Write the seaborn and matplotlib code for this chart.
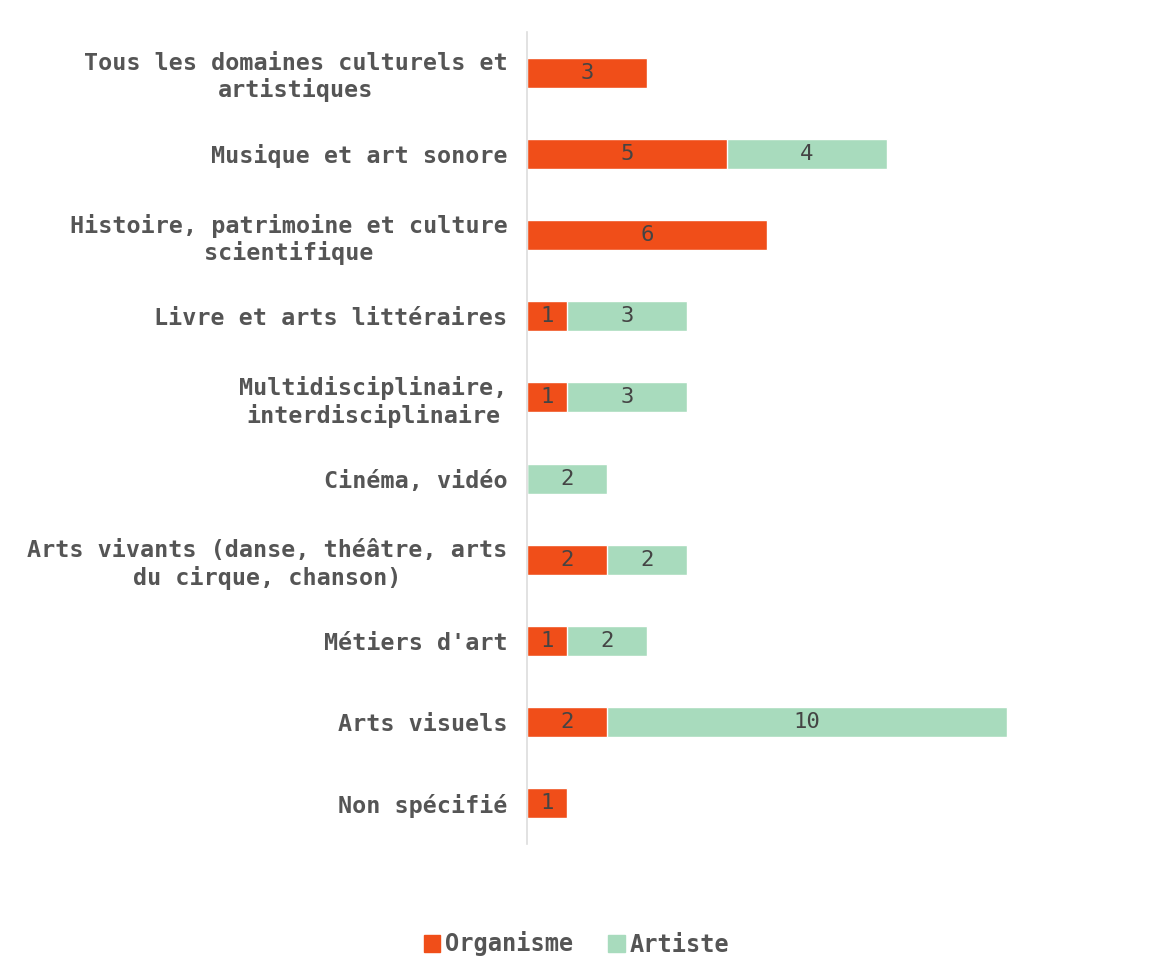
import matplotlib
matplotlib.use("Agg")
import matplotlib.pyplot as plt
import seaborn as sns
import pandas as pd
from matplotlib.patches import Patch

categories = [
    "Tous les domaines culturels et\nartistiques",
    "Musique et art sonore",
    "Histoire, patrimoine et culture\nscientifique",
    "Livre et arts littéraires",
    "Multidisciplinaire,\ninterdisciplinaire",
    "Cinéma, vidéo",
    "Arts vivants (danse, théâtre, arts\ndu cirque, chanson)",
    "Métiers d'art",
    "Arts visuels",
    "Non spécifié",
]
organisme = [3, 5, 6, 1, 1, 0, 2, 1, 2, 1]
artiste = [0, 4, 0, 3, 3, 2, 2, 2, 10, 0]
series_names = ["Organisme", "Artiste"]
colors = ["#F04E19", "#A8DBBD"]

sns.set_theme(style="white")
plt.rcParams["font.family"] = ["DejaVu Sans Mono"]

df = pd.DataFrame({"cat": categories, "Organisme": organisme, "Artiste": artiste})
df["total"] = df["Organisme"] + df["Artiste"]

fig = plt.figure(figsize=(11.53, 9.59), dpi=100)
ax = fig.add_axes([0.457, 0.12, 0.5205, 0.8466])

sns.barplot(data=df, x="total", y="cat", color=colors[1], saturation=1, width=0.37, ax=ax, orient="h")
sns.barplot(data=df, x="Organisme", y="cat", color=colors[0], saturation=1, width=0.37, ax=ax, orient="h")

txt_col = "#444444"
for i, (o, a) in enumerate(zip(organisme, artiste)):
    if o > 0:
        ax.text(o / 2, i, str(o), ha="center", va="center", fontsize=16, color=txt_col)
    if a > 0:
        ax.text(o + a / 2, i, str(a), ha="center", va="center", fontsize=16, color=txt_col)

ax.set_xlim(0, 15)
ax.set_ylim(len(categories) - 0.5, -0.5)
ax.set_xlabel("")
ax.set_ylabel("")
ax.set_xticks([])
for s in ["top", "right", "bottom"]:
    ax.spines[s].set_visible(False)
ax.spines["left"].set_color("#dddddd")
ax.spines["left"].set_linewidth(1.2)
ax.tick_params(axis="y", length=0, pad=14)
for lab in ax.get_yticklabels():
    lab.set_fontsize(16.8)
    lab.set_fontweight("bold")
    lab.set_color("#555555")
    lab.set_multialignment("center")
    lab.set_linespacing(1.2)

handles = [Patch(color=c, label=n) for c, n in zip(colors, series_names)]
leg = fig.legend(handles=handles, loc="center", bbox_to_anchor=(0.5, 1 - 944 / 959), ncol=2,
                 frameon=False, handlelength=0.7, handleheight=0.7, handletextpad=0.2,
                 columnspacing=1.5, prop={"size": 17, "weight": "bold"})
for t in leg.get_texts():
    t.set_color("#555555")

fig.savefig("out.png", dpi=100, facecolor="white")
